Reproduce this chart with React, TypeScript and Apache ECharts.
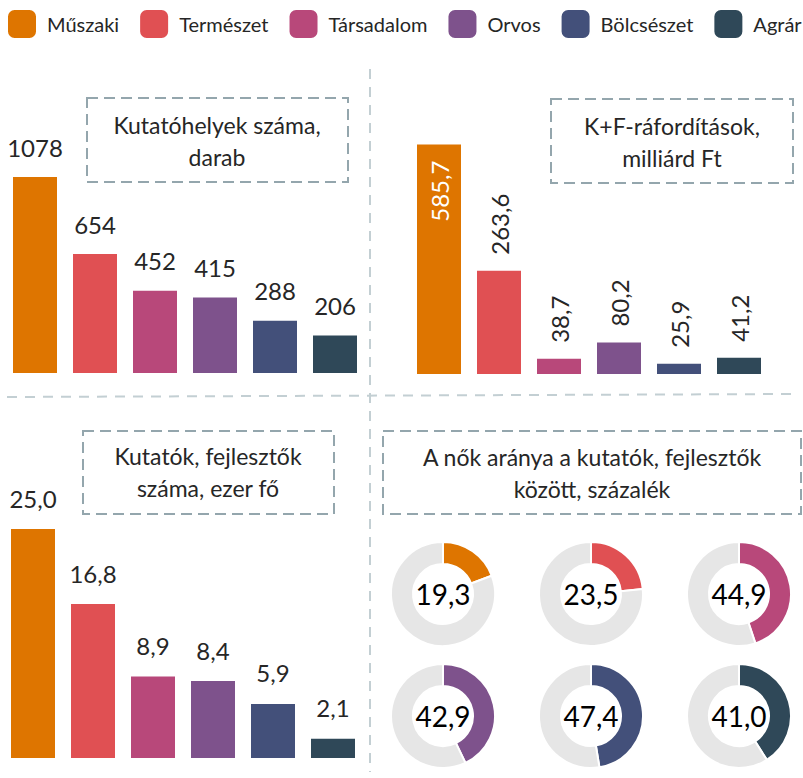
import React, { useEffect, useRef } from "react";
import * as echarts from "echarts";

const categories = ["Műszaki", "Természet", "Társadalom", "Orvos", "Bölcsészet", "Agrár"];
const researchUnits = [1078, 654, 452, 415, 288, 206];
const rdSpending = [585.7, 263.6, 38.7, 80.2, 25.9, 41.2];
const researchers = [25.0, 16.8, 8.9, 8.4, 5.9, 2.1];
const womenShare = [19.3, 23.5, 44.9, 42.9, 47.4, 41.0];
const colors = ["#DE7500", "#E05053", "#B8487A", "#7E528C", "#43507A", "#2F4858"];

const titles = [
  "Kutatóhelyek száma,\ndarab",
  "K+F-ráfordítások,\nmilliárd Ft",
  "Kutatók, fejlesztők\nszáma, ezer fő",
  "A nők aránya a kutatók, fejlesztők\nközött, százalék",
];

const FONT = 'Lato, "Open Sans", sans-serif';
const TEXT = "#262626";

const fmt1 = (v: number) => v.toFixed(1).replace(".", ",");

export default function App() {
  const ref = useRef<HTMLDivElement>(null);
  useEffect(() => {
    if (!ref.current) return;
    const chart = echarts.init(ref.current, null, { renderer: "svg" });

    const barData = (vals: number[]) =>
      vals.map((v, i) => ({ value: v, itemStyle: { color: colors[i] } }));

    const pieCenters = [
      [443, 594],
      [591, 594],
      [739, 594],
      [443, 716],
      [591, 716],
      [739, 716],
    ];

    const pies = womenShare.map((v, i) => ({
      type: "pie",
      center: pieCenters[i],
      radius: [30, 52],
      startAngle: 90,
      clockwise: true,
      silent: true,
      avoidLabelOverlap: false,
      itemStyle: { borderColor: "#fff", borderWidth: 2 },
      labelLine: { show: false },
      data: [
        {
          name: categories[i],
          value: v,
          itemStyle: { color: colors[i] },
          label: {
            show: true,
            position: "center",
            formatter: () => fmt1(v),
            fontSize: 28,
            fontFamily: FONT,
            color: "#000",
          },
        },
        {
          name: "rest" + i,
          value: 100 - v,
          itemStyle: { color: "#E6E6E6" },
          label: { show: false },
        },
      ],
    }));

    const boxStyle = { fill: "none", stroke: "#94A6AD", lineWidth: 2, lineDash: [11, 6] };
    const txt = (text: string, x: number, y: number) => ({
      type: "text",
      style: {
        text,
        x,
        y,
        align: "center",
        verticalAlign: "middle",
        textAlign: "center",
        textVerticalAlign: "middle",
        fontSize: 23,
        fontFamily: FONT,
        fill: TEXT,
        lineHeight: 32,
      },
    });

    const option: any = {
      animation: false,
      legend: {
        data: categories,
        left: 6,
        top: 8,
        width: 1200,
        padding: 0,
        itemWidth: 30,
        itemHeight: 30,
        itemGap: 19,
        icon: "roundRect",
        selectedMode: false,
        textStyle: { fontSize: 20, color: TEXT, fontFamily: FONT, padding: [0, 0, 0, 5] },
      },
      grid: [
        { left: 5, width: 360, top: 173, height: 200 },
        { left: 409, width: 360, top: 139, height: 235 },
        { left: 3, width: 360, top: 529, height: 229 },
      ],
      xAxis: [0, 1, 2].map((g) => ({ type: "category", data: categories, gridIndex: g, show: false })),
      yAxis: [
        { type: "value", gridIndex: 0, min: 0, max: 1100, show: false },
        { type: "value", gridIndex: 1, min: 0, max: 600, show: false },
        { type: "value", gridIndex: 2, min: 0, max: 25, show: false },
      ],
      series: [
        {
          type: "bar",
          xAxisIndex: 0,
          yAxisIndex: 0,
          barWidth: 44,
          silent: true,
          data: barData(researchUnits),
          label: {
            show: true,
            position: "top",
            distance: 18,
            fontSize: 24,
            fontFamily: FONT,
            color: TEXT,
            formatter: (p: any) => String(p.value),
          },
        },
        {
          type: "bar",
          xAxisIndex: 1,
          yAxisIndex: 1,
          barWidth: 44,
          silent: true,
          data: rdSpending.map((v, i) => ({
            value: v,
            itemStyle: { color: colors[i] },
            label:
              i === 0
                ? { position: "insideTop", align: "right", color: "#fff", distance: 16 }
                : { position: "top", align: "left", color: TEXT, distance: 16 },
          })),
          label: {
            show: true,
            rotate: 90,
            verticalAlign: "middle",
            fontSize: 24,
            fontFamily: FONT,
            formatter: (p: any) => fmt1(p.value),
          },
        },
        {
          type: "bar",
          xAxisIndex: 2,
          yAxisIndex: 2,
          barWidth: 44,
          silent: true,
          data: barData(researchers),
          label: {
            show: true,
            position: "top",
            distance: 19,
            fontSize: 24,
            fontFamily: FONT,
            color: TEXT,
            formatter: (p: any) => fmt1(p.value),
          },
        },
        ...pies,
      ],
      graphic: [
        {
          type: "line",
          shape: { x1: 7, y1: 397, x2: 793, y2: 394 },
          style: { stroke: "#C3CFD3", lineWidth: 2, lineDash: [10, 8] },
        },
        {
          type: "line",
          shape: { x1: 370, y1: 69, x2: 370, y2: 772 },
          style: { stroke: "#C3CFD3", lineWidth: 2, lineDash: [10, 8] },
        },
        { type: "rect", shape: { x: 87, y: 98, width: 261, height: 84 }, style: boxStyle },
        { type: "rect", shape: { x: 551, y: 99, width: 242, height: 84 }, style: boxStyle },
        { type: "rect", shape: { x: 83, y: 431, width: 251, height: 83 }, style: boxStyle },
        { type: "rect", shape: { x: 383, y: 431, width: 418, height: 83 }, style: boxStyle },
        txt(titles[0], 217, 141),
        txt(titles[1], 672, 142),
        txt(titles[2], 208, 472),
        txt(titles[3], 592, 473),
      ],
    };
    chart.setOption(option);
    return () => chart.dispose();
  }, []);
  return (
    <div
      ref={ref}
      style={{ position: "fixed", left: 0, top: 0, width: 803, height: 778, background: "#fff" }}
    />
  );
}
